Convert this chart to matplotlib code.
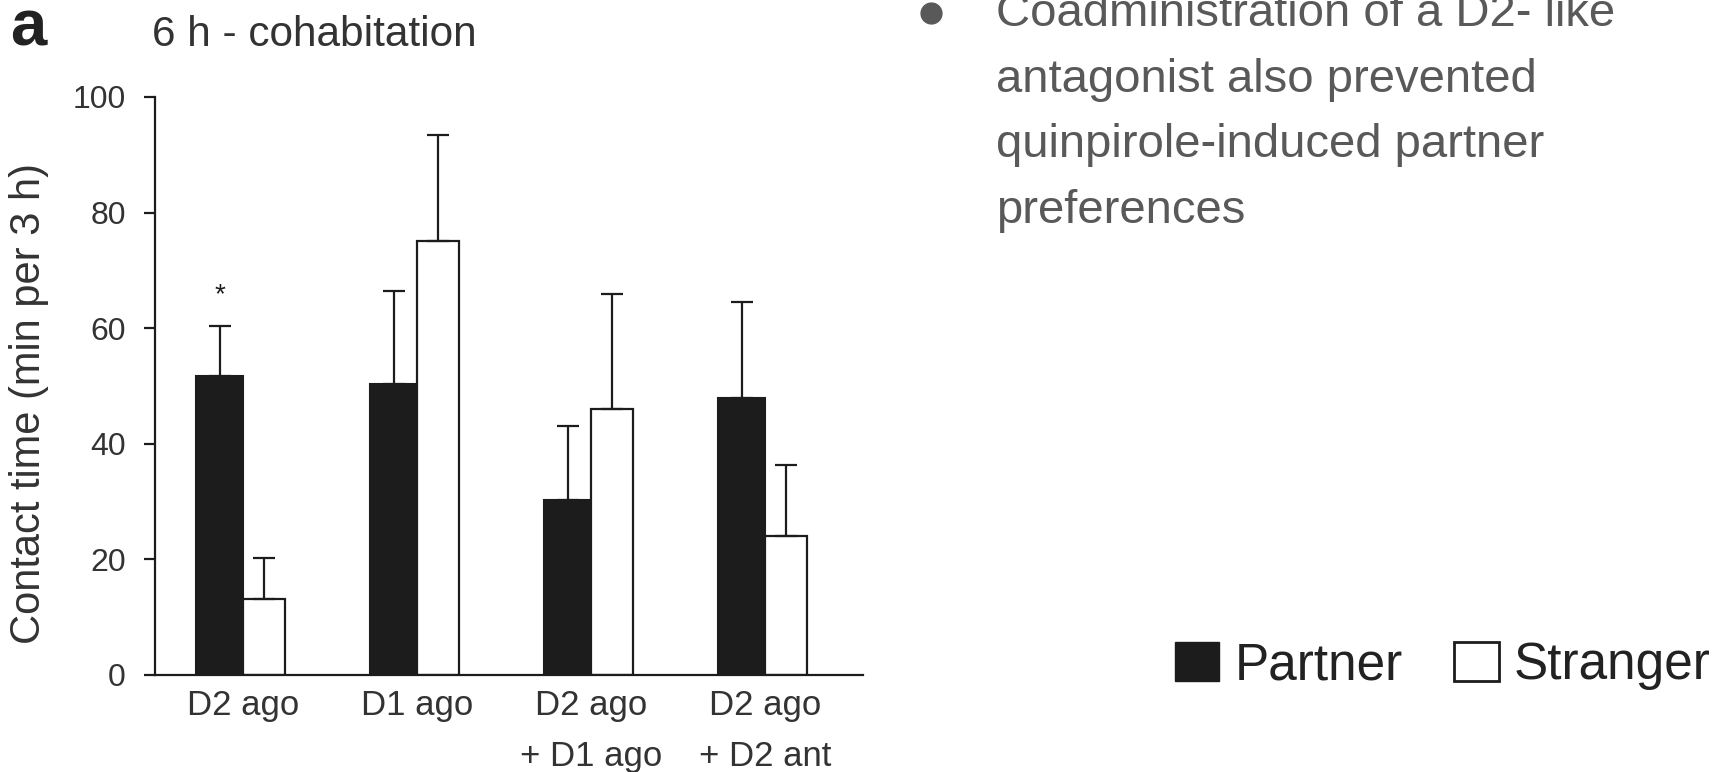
import numpy as np
import matplotlib.pyplot as plt
from matplotlib.patches import Patch
from matplotlib.lines import Line2D

plt.rcParams['font.family'] = ['Liberation Sans', 'DejaVu Sans']

categories = ['D2 ago', 'D1 ago', 'D2 ago\n+ D1 ago', 'D2 ago\n+ D2 ant']
partner = [51.8, 50.4, 30.2, 47.9]
partner_err = [8.5, 16.0, 12.8, 16.7]
stranger = [13.2, 75.1, 46.0, 24.0]
stranger_err = [7.1, 18.3, 19.9, 12.3]
star_y = 65.7

bullet_lines = ['Coadministration of a D2- like', 'antagonist also prevented',
                'quinpirole-induced partner', 'preferences']

W, H = 1734, 772
fig = plt.figure(figsize=(W/100, H/100), dpi=100)
ax = fig.add_axes([155/W, 97/H, 708/W, 578/H])

dark = '#1c1c1c'
x = np.arange(len(categories))
wp, ws = 0.27, 0.24
ekw = dict(ecolor=dark, elinewidth=1.6, capsize=8, capthick=1.6)
ax.bar(x - wp/2, partner, wp, color=dark, edgecolor=dark, linewidth=1.5,
       yerr=[np.zeros(4), partner_err], error_kw=ekw)
ax.bar(x + ws/2, stranger, ws, color='white', edgecolor=dark, linewidth=1.6,
       yerr=[np.zeros(4), stranger_err], error_kw=ekw)
ax.text(x[0] - wp/2, star_y, '*', ha='center', va='center', fontsize=20, color=dark)

ax.set_xlim(-0.506, 3.563)
ax.set_ylim(0, 100)
ax.set_yticks([0, 20, 40, 60, 80, 100])
ax.set_xticks(x)
ax.set_xticklabels(categories, fontsize=25, color='#333333', linespacing=1.68)
ax.tick_params(axis='x', length=0, pad=10)
ax.tick_params(axis='y', labelsize=23, labelcolor='#333333', length=8, width=1.6,
               direction='out', pad=13, color=dark)
for s in ['top', 'right']:
    ax.spines[s].set_visible(False)
for s in ['left', 'bottom']:
    ax.spines[s].set_linewidth(1.6)
    ax.spines[s].set_color(dark)
ax.set_ylabel('Contact time (min per 3 h)', fontsize=30, color='#333333')
ax.yaxis.set_label_coords(-0.15, 0.47)

fig.text(10/W, 1 - 45/H, 'a', fontsize=47, fontweight='bold', color='#222222', va='baseline')
fig.text(152/W, 1 - 46/H, '6 h - cohabitation', fontsize=30.5, color='#333333', va='baseline')

# bullet text on the right
fig.add_artist(Line2D([931/W], [1 - 13/H], transform=fig.transFigure, marker='o',
                      markersize=15, color='#595959', linestyle='none'))
for i, line in enumerate(bullet_lines):
    fig.text(996/W, 1 - (26 + 65.7*i)/H, line, fontsize=34, color='#595959', va='baseline')

handles = [Patch(facecolor=dark, edgecolor=dark, label='Partner'),
           Patch(facecolor='white', edgecolor=dark, linewidth=2, label='Stranger')]
fig.legend(handles=handles, loc='center', bbox_to_anchor=(1443/W, 1 - 666/H), ncol=2,
           frameon=False, fontsize=37, handlelength=0.86, handleheight=0.78,
           handletextpad=0.3, columnspacing=1.0, labelcolor='#222222')

fig.savefig('out.png', dpi=100)
